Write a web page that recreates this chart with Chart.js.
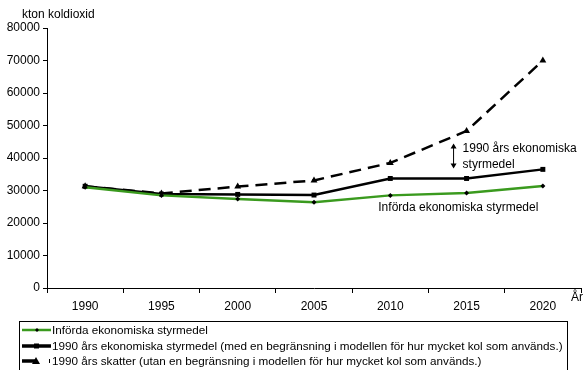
<!DOCTYPE html>
<html lang="sv">
<head>
  <meta charset="UTF-8">
  <title>Koldioxidutsläpp</title>
  <style>
    html, body { margin: 0; padding: 0; background: #ffffff; overflow: hidden; }
    #wrap { width: 588px; height: 370px; }
    canvas { display: block; }
  </style>
</head>
<body>
  <div id="wrap">
    <canvas id="co2Chart" width="588" height="370"></canvas>
  </div>

  <script src="https://cdn.jsdelivr.net/npm/chart.js"></script>
  <script>
    // data
    const years = ['1990', '1995', '2000', '2005', '2010', '2015', '2020'];
    const infordaStyrmedel = [31000, 28500, 27400, 26400, 28500, 29200, 31400];
    const styrmedel1990 = [31300, 28900, 28800, 28600, 33700, 33700, 36500];
    const skatter1990 = [31300, 29100, 31200, 33100, 38500, 48300, 70000];
    const yTicks = [0, 10000, 20000, 30000, 40000, 50000, 60000, 70000, 80000];

    const legendLabels = [
      'Införda ekonomiska styrmedel',
      '1990 års ekonomiska styrmedel (med en begränsning i modellen för hur mycket kol som används.)',
      '1990 års skatter (utan en begränsning i modellen för hur mycket kol som används.)'
    ];

    const FONT = '"Liberation Sans", Arial, sans-serif';

    // axis title, "År", annotations and the boxed legend
    const extras = {
      id: 'extras',
      afterDraw(chart) {
        const c = chart.ctx;
        const x = chart.scales.x;
        const y = chart.scales.y;
        c.save();
        c.fillStyle = '#000';
        c.textBaseline = 'middle';
        c.font = '12px ' + FONT;
        c.textAlign = 'left';
        c.fillText('kton koldioxid', 22, 15);
        c.fillText('År', 571, 298);

        // annotation between the black lines
        const ax = x.getPixelForValue(5) - 13;
        const top = y.getPixelForValue(44500);
        const bot = y.getPixelForValue(36800);
        c.strokeStyle = '#000';
        c.lineWidth = 1;
        c.beginPath();
        c.moveTo(ax, top + 2);
        c.lineTo(ax, bot - 2);
        c.stroke();
        c.beginPath();
        c.moveTo(ax, top); c.lineTo(ax - 3, top + 5); c.lineTo(ax + 3, top + 5); c.closePath();
        c.moveTo(ax, bot); c.lineTo(ax - 3, bot - 5); c.lineTo(ax + 3, bot - 5); c.closePath();
        c.fill();
        c.fillText('1990 års ekonomiska', ax + 9, top + 5);
        c.fillText('styrmedel', ax + 9, top + 21);
        c.fillText('Införda ekonomiska styrmedel', x.getPixelForValue(4) - 12, y.getPixelForValue(24700));

        // legend box
        c.lineWidth = 1;
        c.strokeRect(19.5, 321.5, 548, 60);
        c.font = '11.7px ' + FONT;
        const rows = [330, 346, 361];
        chart.data.datasets.forEach((ds, i) => {
          const ry = rows[i];
          c.strokeStyle = ds.borderColor;
          c.lineWidth = i === 0 ? 2.5 : 3.5;
          c.beginPath();
          if (i === 2) {
            c.moveTo(22, ry); c.lineTo(36, ry);
          } else {
            c.moveTo(22, ry); c.lineTo(51, ry);
          }
          c.stroke();
          c.fillStyle = '#000';
          c.beginPath();
          if (i === 0) {
            c.moveTo(37, ry - 2); c.lineTo(39, ry); c.lineTo(37, ry + 2); c.lineTo(35, ry);
          } else if (i === 1) {
            c.rect(34, ry - 2.5, 5, 5);
          } else {
            c.moveTo(36, ry - 4); c.lineTo(40, ry + 3); c.lineTo(32, ry + 3);
          }
          c.closePath();
          c.fill();
          if (i === 2) c.fillRect(49, ry - 2, 1, 4);
          c.fillText(legendLabels[i], 52, ry + 1);
        });
        c.restore();
      }
    };

    const ctx = document.getElementById('co2Chart').getContext('2d');
    const chart = new Chart(ctx, {
      type: 'line',
      data: {
        labels: years,
        datasets: [
          {
            label: legendLabels[0],
            data: infordaStyrmedel,
            borderColor: '#3a9a1e',
            borderWidth: 2.5,
            pointStyle: 'rectRot',
            pointRadius: 2.5,
            pointBackgroundColor: '#000',
            pointBorderColor: '#000',
            pointBorderWidth: 0,
            tension: 0
          },
          {
            label: legendLabels[1],
            data: styrmedel1990,
            borderColor: '#000',
            borderWidth: 2.5,
            pointStyle: 'rect',
            pointRadius: 3.5,
            pointBackgroundColor: '#000',
            pointBorderColor: '#000',
            pointBorderWidth: 0,
            tension: 0
          },
          {
            label: legendLabels[2],
            data: skatter1990,
            borderColor: '#000',
            borderWidth: 2.5,
            borderDash: [12, 7],
            pointStyle: 'triangle',
            pointRadius: 4,
            pointBackgroundColor: '#000',
            pointBorderColor: '#000',
            pointBorderWidth: 0,
            tension: 0
          }
        ]
      },
      options: {
        responsive: false,
        animation: false,
        layout: { padding: { top: 28, right: 7, left: 0, bottom: 0 } },
        scales: {
          x: {
            offset: true,
            grid: { offset: true, drawOnChartArea: false, tickLength: 5, color: '#000' },
            border: { color: '#000', width: 1 },
            ticks: { color: '#000', padding: 6, font: { family: FONT, size: 12 }, maxRotation: 0 },
            afterFit(axis) { axis.height = 82; }
          },
          y: {
            min: 0,
            max: 80000,
            afterBuildTicks(axis) { axis.ticks = yTicks.map(v => ({ value: v })); },
            grid: { drawOnChartArea: false, tickLength: 4, color: '#000' },
            border: { color: '#000', width: 1 },
            ticks: {
              color: '#000',
              padding: 3,
              font: { family: FONT, size: 12 },
              callback: v => String(v)
            },
            afterFit(axis) { axis.width = 47; }
          }
        },
        plugins: {
          legend: { display: false },
          tooltip: { enabled: false }
        }
      },
      plugins: [extras]
    });
  </script>
</body>
</html>
